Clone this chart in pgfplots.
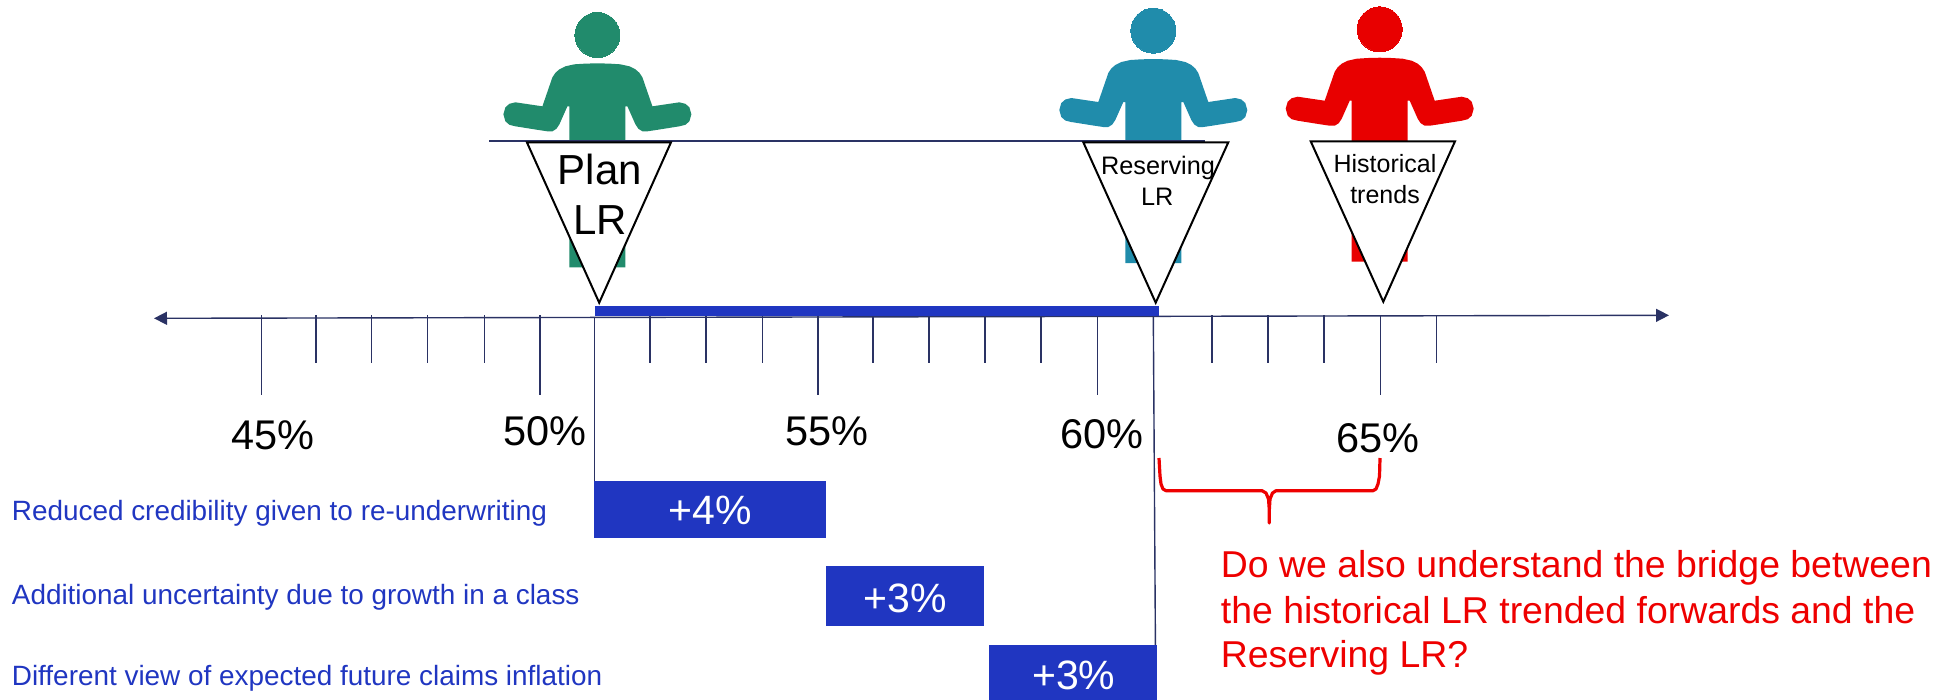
\documentclass[border=0pt]{standalone}
\usepackage{fontspec}
\setmainfont{Liberation Sans}
\usepackage{pgfplots}
\usepackage{pgfplotstable}
\pgfplotsset{compat=1.18}
\usetikzlibrary{arrows.meta}
\definecolor{planc}{RGB}{33,139,108}
\definecolor{resc}{RGB}{32,140,171}
\definecolor{histc}{RGB}{232,0,0}
\definecolor{barc}{RGB}{32,54,193}
\definecolor{linec}{RGB}{42,50,100}
\definecolor{redtxt}{RGB}{238,0,0}
% sizes are given in image pixels, 1px = 0.5bp
\newcommand{\px}[1]{\fontsize{\fpeval{#1/2}bp}{\fpeval{#1*0.6}bp}\selectfont}

\pgfplotstableread{
x y
0 59
-12 59.3
-23 60
-32 62
-38 65
-42 68.5
-45 73
-55 102
-82 98
-88 99.5
-92 103
-94 110
-92 117
-88 120.5
-82 122
-60 125.5
-50 127
-45 127
-41 124.5
-38 120
-30 102
-28 102
-28 263
28 263
28 102
30 102
38 120
41 124.5
45 127
50 127
60 125.5
82 122
88 120.5
92 117
94 110
92 103
88 99.5
82 98
55 102
45 73
42 68.5
38 65
32 62
23 60
12 59.3
}\person

\begin{document}
\begin{tikzpicture}
\useasboundingbox (0,0) rectangle (971.5bp,350bp);
\begin{axis}[
	at={(0,0)}, anchor=south west,
	hide axis, scale only axis,
	width=971.5bp, height=350bp,
	xmin=0, xmax=1943, ymin=0, ymax=700,
	y dir=reverse,
	clip=false,
]
	% people
	\addplot[fill=planc, draw=none] table[x expr=\thisrow{x}+597.4, y expr=\thisrow{y}+4.3] {\person} -- cycle;
	\addplot[fill=resc, draw=none] table[x expr=\thisrow{x}+1153.3, y=y] {\person} -- cycle;
	\addplot[fill=histc, draw=none] table[x expr=\thisrow{x}+1379.7, y expr=\thisrow{y}-1.3] {\person} -- cycle;
	\addplot[only marks, mark=*, mark size=11.3pt, mark options={draw=planc, fill=planc, line width=0pt}] coordinates {(597.4,35)};
	\addplot[only marks, mark=*, mark size=11.3pt, mark options={draw=resc, fill=resc, line width=0pt}] coordinates {(1153.3,30.7)};
	\addplot[only marks, mark=*, mark size=11.3pt, mark options={draw=histc, fill=histc, line width=0pt}] coordinates {(1379.7,29.3)};

	% line the figures stand on
	\addplot[linec, line width=0.6bp] coordinates {(489,141) (1205,141)};

	% markers
	\addplot[fill=white, draw=black, line width=1bp] coordinates {(526.9,142.3) (671,142.3) (599.2,302.7)} -- cycle;
	\addplot[fill=white, draw=black, line width=1bp] coordinates {(1083.3,142.3) (1228.3,142.3) (1155.7,302.7)} -- cycle;
	\addplot[fill=white, draw=black, line width=1bp] coordinates {(1310.7,141.3) (1455,141.3) (1383.3,301.7)} -- cycle;

	% scale
	\addplot[linec, line width=0.7bp, {Stealth[length=6.5bp,width=6.5bp,inset=0pt]}-{Stealth[length=6.5bp,width=6.5bp,inset=0pt]}] coordinates {(154,318.3) (1669,315.3)};
	\foreach \t in {261.4,540,818,1097.4,1380.3} {
		\edef\tmp{\noexpand\addplot[linec, line width=0.7bp] coordinates {(\t,315) (\t,395)};}\tmp
	}
	\foreach \t in {316,371.7,427.5,484.5,650,706,762.6,873,929,985,1041,1212,1268,1324,1436.7} {
		\edef\tmp{\noexpand\addplot[linec, line width=0.7bp] coordinates {(\t,315) (\t,363)};}\tmp
	}
	\addplot[linec, line width=0.7bp] coordinates {(594.3,317) (594.3,508)};
	\addplot[linec, line width=0.7bp] coordinates {(1153.3,315) (1155.6,673)};

	% range between plan and reserving
	\addplot[fill=barc, draw=none] coordinates {(594.7,305.7) (1158.6,305.7) (1158.6,315.7) (594.7,315.7)} -- cycle;

	% bridge
	\addplot[fill=barc, draw=none] coordinates {(594,481) (825.7,481) (825.7,537.5) (594,537.5)} -- cycle;
	\addplot[fill=barc, draw=none] coordinates {(825.7,566) (984,566) (984,626) (825.7,626)} -- cycle;
	\addplot[fill=barc, draw=none] coordinates {(988.8,645) (1157,645) (1157,700) (988.8,700)} -- cycle;

	% bracket
	\addplot[redtxt, line width=1.6bp, line join=round] coordinates {(1159,458) (1160,476) (1161,484) (1163,489) (1166,490.7) (1262,490.7) (1266,493) (1268.5,499) (1269.3,510) (1269.3,523) (1269.3,510) (1270,499) (1272.5,493) (1276,490.7) (1373,490.7) (1376,489) (1378,484) (1379.5,476) (1380,458)};

	% text
	\node[font=\px{41.5}] at (axis cs:273,435) {45\%};
	\node[font=\px{41.5}] at (axis cs:545,431) {50\%};
	\node[font=\px{41.5}] at (axis cs:827,431) {55\%};
	\node[font=\px{41.5}] at (axis cs:1102,434) {60\%};
	\node[font=\px{41.5}] at (axis cs:1378,438) {65\%};

	\node[font=\px{42}, anchor=base] at (axis cs:600,184) {Plan};
	\node[font=\px{42}, anchor=base] at (axis cs:600,234) {LR};
	\node[font=\px{25.3}, anchor=base, inner sep=0pt] at (axis cs:1158,174.3) {Reserving};
	\node[font=\px{25.3}, anchor=base, inner sep=0pt] at (axis cs:1157.3,205) {LR};
	\node[font=\px{25}, anchor=base, inner sep=0pt] at (axis cs:1385,172.7) {Historical};
	\node[font=\px{25}, anchor=base, inner sep=0pt] at (axis cs:1385,203.3) {trends};

	\node[font=\px{27.9}, text=barc, anchor=west, inner sep=0pt] at (axis cs:11.5,513) {Reduced credibility given to re-underwriting};
	\node[font=\px{27.9}, text=barc, anchor=west, inner sep=0pt] at (axis cs:11.5,597.5) {Additional uncertainty due to growth in a class};
	\node[font=\px{27.9}, text=barc, anchor=west, inner sep=0pt] at (axis cs:11.5,678.5) {Different view of expected future claims inflation};

	\node[font=\px{41}, text=white] at (axis cs:710,510) {+4\%};
	\node[font=\px{41}, text=white] at (axis cs:905,598) {+3\%};
	\node[font=\px{41}, text=white] at (axis cs:1073.7,675) {+3\%};

	\node[font=\px{37.4}, text=redtxt, anchor=west, inner sep=0pt] at (axis cs:1220.5,567.5) {Do we also understand the bridge between};
	\node[font=\px{37.4}, text=redtxt, anchor=west, inner sep=0pt] at (axis cs:1220.5,610) {the historical LR trended forwards and the};
	\node[font=\px{37.4}, text=redtxt, anchor=west, inner sep=0pt] at (axis cs:1220.5,657.5) {Reserving LR?};
\end{axis}
\end{tikzpicture}
\end{document}
